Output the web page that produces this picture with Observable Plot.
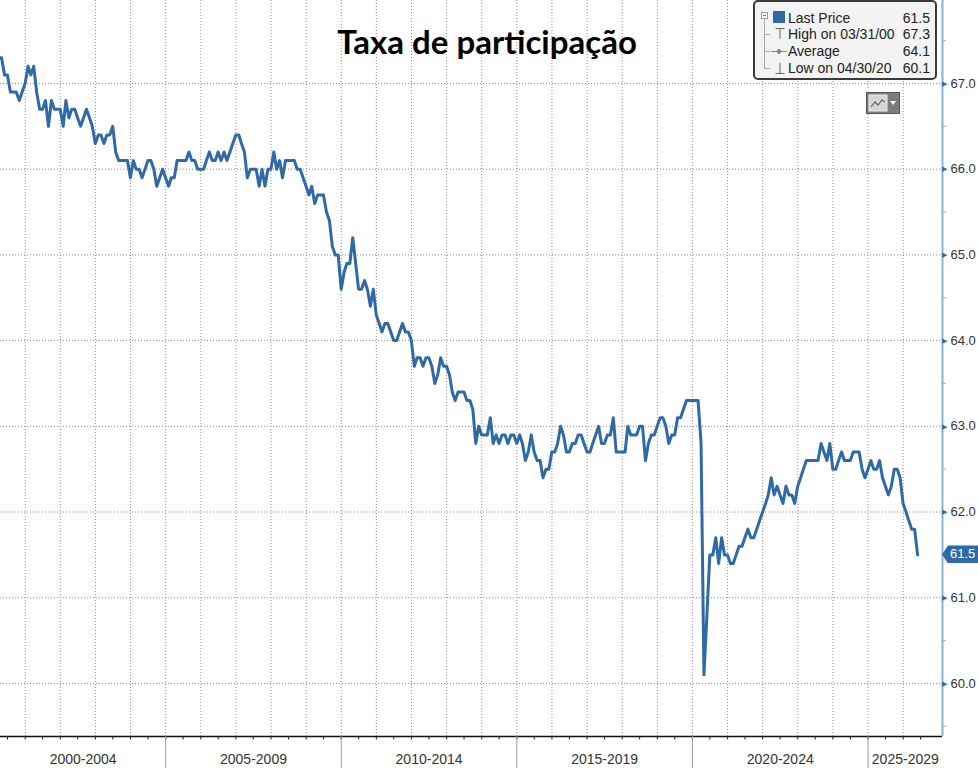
<!DOCTYPE html>
<html>
<head>
<meta charset="utf-8">
<script src="https://cdn.jsdelivr.net/npm/d3@7"></script>
<script src="https://cdn.jsdelivr.net/npm/@observablehq/plot@0.6"></script>
<style>
  body { margin: 0; background: #fff; }
  #wrap { position: relative; width: 978px; height: 768px; overflow: hidden; font-family: "Liberation Sans", Arial, sans-serif; }
  #legend { position: absolute; left: 753px; top: 0px; width: 180px; height: 76px; border: 2px solid #3a3a3a; border-radius: 5px; background: #f3f3f3; }
  .lrow { position: absolute; font-size: 14px; line-height: 17px; color: #222; white-space: nowrap; }
  .lval { position: absolute; font-size: 14px; line-height: 17px; color: #222; text-align: right; width: 40px; }
  #btn { position: absolute; left: 866px; top: 92px; width: 32px; height: 20px; background: #7d7d7d; border: 1px solid #555; }
  #tag { position: absolute; left: 942px; width: 36px; height: 18px; background: #2f6aa6; color: #fff; font-size: 13px; line-height: 18px; text-indent: 8px;
         clip-path: polygon(0 50%, 6px 0, 100% 0, 100% 100%, 6px 100%); }
</style>
</head>
<body>
<div id="wrap">
  <div id="chart"></div>
</div>
<script>
// ---- data (monthly, month-end, starting March 2000) ----
const seriesStart = { year: 2000, month: 3 };
const participation = [
  67.3, 67.3, 67.1, 67.1, 66.9, 66.9, 66.9, 66.8, 66.9, 67.0,                   // 2000 (Mar-Dec)
  67.2, 67.1, 67.2, 66.9, 66.7, 66.7, 66.8, 66.5, 66.8, 66.7, 66.7, 66.7,       // 2001
  66.5, 66.8, 66.6, 66.7, 66.7, 66.6, 66.5, 66.6, 66.7, 66.6, 66.5, 66.3,       // 2002
  66.4, 66.4, 66.3, 66.4, 66.4, 66.5, 66.2, 66.1, 66.1, 66.1, 66.1, 65.9,       // 2003
  66.1, 66.0, 66.0, 65.9, 66.0, 66.1, 66.1, 66.0, 65.8, 65.9, 66.0, 65.9,       // 2004
  65.8, 65.9, 65.9, 66.1, 66.1, 66.1, 66.1, 66.2, 66.1, 66.1, 66.0, 66.0,       // 2005
  66.0, 66.1, 66.2, 66.1, 66.1, 66.2, 66.1, 66.2, 66.1, 66.2, 66.3, 66.4,       // 2006
  66.4, 66.3, 66.2, 65.9, 66.0, 66.0, 66.0, 65.8, 66.0, 65.8, 66.0, 66.0,       // 2007
  66.2, 66.0, 66.1, 65.9, 66.1, 66.1, 66.1, 66.1, 66.0, 66.0, 65.9, 65.8,       // 2008
  65.7, 65.8, 65.6, 65.7, 65.7, 65.7, 65.5, 65.4, 65.1, 65.0, 65.0, 64.6,       // 2009
  64.8, 64.9, 64.9, 65.2, 64.9, 64.6, 64.6, 64.7, 64.6, 64.4, 64.6, 64.3,       // 2010
  64.2, 64.1, 64.2, 64.2, 64.1, 64.0, 64.0, 64.1, 64.2, 64.1, 64.1, 64.0,       // 2011
  63.7, 63.8, 63.8, 63.7, 63.8, 63.8, 63.7, 63.5, 63.6, 63.8, 63.7, 63.7,       // 2012
  63.6, 63.4, 63.3, 63.4, 63.4, 63.4, 63.3, 63.3, 63.2, 62.8, 63.0, 62.9,       // 2013
  62.9, 62.9, 63.1, 62.8, 62.9, 62.8, 62.9, 62.9, 62.8, 62.9, 62.9, 62.8,       // 2014
  62.9, 62.8, 62.6, 62.7, 62.9, 62.7, 62.6, 62.6, 62.4, 62.5, 62.5, 62.7,       // 2015
  62.7, 62.8, 63.0, 62.9, 62.7, 62.7, 62.8, 62.8, 62.9, 62.9, 62.8, 62.7,       // 2016
  62.7, 62.8, 62.9, 63.0, 62.8, 62.8, 62.9, 62.9, 63.1, 62.7, 62.7, 62.7,       // 2017
  62.7, 63.0, 62.9, 62.9, 62.9, 63.0, 63.0, 62.6, 62.8, 62.9, 62.9, 63.0,       // 2018
  63.1, 63.1, 63.0, 62.8, 62.9, 62.9, 63.1, 63.1, 63.2, 63.3, 63.3, 63.3,       // 2019
  63.3, 63.3, 62.8, 60.1, 60.8, 61.5, 61.5, 61.7, 61.4, 61.7, 61.5, 61.5,       // 2020
  61.4, 61.4, 61.5, 61.6, 61.6, 61.7, 61.8, 61.7, 61.7, 61.8, 61.9, 62.0,       // 2021
  62.1, 62.2, 62.4, 62.2, 62.3, 62.2, 62.1, 62.3, 62.2, 62.2, 62.1, 62.3,       // 2022
  62.4, 62.5, 62.6, 62.6, 62.6, 62.6, 62.6, 62.8, 62.7, 62.6, 62.8, 62.5,       // 2023
  62.5, 62.6, 62.7, 62.6, 62.6, 62.6, 62.7, 62.7, 62.7, 62.5, 62.4, 62.5,       // 2024
  62.6, 62.5, 62.5, 62.6, 62.4, 62.3, 62.2, 62.3, 62.5, 62.5, 62.4, 62.1,       // 2025
  62.0, 61.9, 61.8, 61.8, 61.5                                                  // 2026 (Jan-May)
];

const periodLabels = ["2000-2004", "2005-2009", "2010-2014", "2015-2019", "2020-2024", "2025-2029"];
const periodStarts = [2000, 2005, 2010, 2015, 2020, 2025];
const yTickValues = [60, 61, 62, 63, 64, 65, 66, 67];
const yMinorValues = [59.5, 60.5, 61.5, 62.5, 63.5, 64.5, 65.5, 66.5, 67.5];
const titleText = "Taxa de participação";
const legendRows = [
  { label: "Last Price", value: "61.5" },
  { label: "High on 03/31/00", value: "67.3" },
  { label: "Average", value: "64.1" },
  { label: "Low on 04/30/20", value: "60.1" }
];
const lastPrice = 61.5;

// ---- derived tables ----
const series = participation.map((v, i) => ({
  date: new Date(Date.UTC(seriesStart.year, seriesStart.month + i, 0)),
  value: v
}));
const xDomain = [new Date(Date.UTC(2000, 3, 19)), new Date(Date.UTC(2027, 1, 14))];
const yDomain = [59.381, 67.968];
const yearLines = d3.range(2001, 2027).map(y => new Date(Date.UTC(y, 0, 1)));
const halfYearTicks = d3.range(2000, 2027).flatMap(y => [new Date(Date.UTC(y, 0, 1)), new Date(Date.UTC(y, 6, 1))])
  .filter(d => d >= xDomain[0] && d <= xDomain[1]);
const separators = periodStarts.slice(1).map(y => new Date(Date.UTC(y, 0, 1)));
const periodText = periodStarts.map((y, i) => {
  const a = Math.max(+new Date(Date.UTC(y, 0, 1)), +xDomain[0]);
  const b = Math.min(+new Date(Date.UTC(y + 5, 0, 1)), +xDomain[1]);
  return { mid: new Date((a + b) / 2), label: periodLabels[i] };
});

const blue = "#2f6aa6";
const gridColor = "#8e8e8e";

const chart = Plot.plot({
  width: 978,
  height: 768,
  marginLeft: 0,
  marginRight: 36,
  marginTop: 0,
  marginBottom: 32,
  style: { background: "white", fontFamily: "Liberation Sans, Arial, sans-serif", overflow: "visible" },
  x: { type: "utc", domain: xDomain, axis: null, label: null },
  y: { domain: yDomain, axis: null, label: null },
  marks: [
    Plot.ruleX(yearLines, { stroke: gridColor, strokeWidth: 1, strokeDasharray: "1,2" }),
    Plot.ruleY(yTickValues, { stroke: gridColor, strokeWidth: 1, strokeDasharray: "1,2" }),
    Plot.text([titleText], { frameAnchor: "top", dx: 15.5, dy: 42.7, lineAnchor: "middle", fontSize: 33, fontWeight: 700, fontFamily: "Lato", fill: "#000" }),
    Plot.line(series, { x: "date", y: "value", stroke: blue, strokeWidth: 3, strokeLinejoin: "round", clip: true }),
    // bottom axis
    Plot.ruleY([yDomain[0]], { stroke: "#111", strokeWidth: 1.5 }),
    Plot.axisX(halfYearTicks, { anchor: "bottom", tickSize: 3.5, tickFormat: () => "", label: null, stroke: "#222" }),
    Plot.axisX(separators, { anchor: "bottom", tickSize: 32, tickFormat: () => "", label: null, stroke: "#9a9a9a" }),
    Plot.text(periodText, { x: "mid", text: "label", frameAnchor: "bottom", dy: 23, lineAnchor: "middle", fontSize: 14, fill: "#333" }),
    // right axis
    Plot.ruleX([xDomain[1]], { stroke: "#8fb1d3", strokeWidth: 2 }),
    Plot.axisY(yMinorValues, { anchor: "right", tickSize: 3, tickFormat: () => "", label: null, stroke: "#8fb1d3" }),
    Plot.text(yTickValues, { y: d => d, text: () => "\u25B6", frameAnchor: "right", dx: 5, fontSize: 7, fill: blue, fontFamily: "DejaVu Sans" }),
    Plot.text(yTickValues, { y: d => d, text: d => d.toFixed(1), frameAnchor: "right", dx: 8, textAnchor: "start", fontSize: 13, fill: "#333" })
  ]
});

const wrap = document.getElementById("wrap");
document.getElementById("chart").appendChild(chart);

// legend box (overlay)
const legend = document.createElement("div");
legend.id = "legend";
wrap.appendChild(legend);

const svgNS = "http://www.w3.org/2000/svg";
const icons = document.createElementNS(svgNS, "svg");
icons.setAttribute("width", "36");
icons.setAttribute("height", "80");
icons.style.position = "absolute";
icons.style.left = "754px";
icons.style.top = "0px";
icons.innerHTML = `
  <rect x="7.5" y="12.5" width="6" height="6" fill="#fff" stroke="#999"/>
  <line x1="9" y1="15.5" x2="12" y2="15.5" stroke="#777"/>
  <line x1="10.5" y1="19" x2="10.5" y2="69" stroke="#aaa"/>
  <line x1="10.5" y1="34.5" x2="16" y2="34.5" stroke="#aaa"/>
  <line x1="10.5" y1="51.5" x2="16" y2="51.5" stroke="#aaa"/>
  <line x1="10.5" y1="68.5" x2="16" y2="68.5" stroke="#aaa"/>
  <rect x="19" y="11" width="12" height="12" fill="${blue}"/>
  <line x1="21.5" y1="28.5" x2="30.5" y2="28.5" stroke="#666"/>
  <line x1="26" y1="28.5" x2="26" y2="39" stroke="#666"/>
  <line x1="17" y1="51.5" x2="33" y2="51.5" stroke="#888"/>
  <path d="M25 48.5 L28 51.5 L25 54.5 L22 51.5 Z" fill="#888"/>
  <line x1="26" y1="63" x2="26" y2="73.5" stroke="#666"/>
  <line x1="21.5" y1="73.5" x2="30.5" y2="73.5" stroke="#666"/>`;
wrap.appendChild(icons);

const rowTops = [9.6, 26.2, 42.9, 60.2];
legendRows.forEach((r, i) => {
  const l = document.createElement("div");
  l.className = "lrow";
  l.style.left = "788px";
  l.style.top = rowTops[i] + "px";
  l.textContent = r.label;
  wrap.appendChild(l);
  const v = document.createElement("div");
  v.className = "lval";
  v.style.left = (930 - 40) + "px";
  v.style.top = rowTops[i] + "px";
  v.textContent = r.value;
  wrap.appendChild(v);
});

// small chart-type button
const btn = document.createElement("div");
btn.id = "btn";
btn.innerHTML = `<svg width="32" height="20" style="position:absolute;left:0;top:0">
  <rect x="2" y="2" width="18" height="16" fill="#d6d6d6" stroke="#eee"/>
  <polyline points="4,14 8,9 11,12 15,7 18,9" fill="none" stroke="#666" stroke-width="1.2"/>
  <path d="M23 8 L29 8 L26 12 Z" fill="#f4f4f4"/></svg>`;
wrap.appendChild(btn);

// last price tag on right axis
const yScale = chart.scale("y");
const tag = document.createElement("div");
tag.id = "tag";
tag.style.top = (yScale.apply(lastPrice) - 9) + "px";
tag.textContent = lastPrice.toFixed(1);
wrap.appendChild(tag);
</script>
</body>
</html>
